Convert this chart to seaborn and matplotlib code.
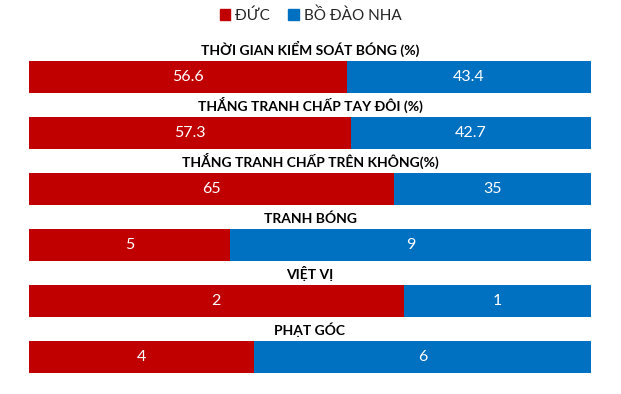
import numpy as np
import pandas as pd
import matplotlib.pyplot as plt
import seaborn as sns
from matplotlib.patches import Patch

# Data
stats = ['THỜI GIAN KIỂM SOÁT BÓNG (%)', 'THẮNG TRANH CHẤP TAY ĐÔI (%)',
         'THẮNG TRANH CHẤP TRÊN KHÔNG(%)', 'TRANH BÓNG', 'VIỆT VỊ', 'PHẠT GÓC']
duc = [56.6, 57.3, 65, 5, 2, 4]
bdn = [43.4, 42.7, 35, 9, 1, 6]
duc_labels = ['56.6', '57.3', '65', '5', '2', '4']
bdn_labels = ['43.4', '42.7', '35', '9', '1', '6']

RED = '#C00000'
BLUE = '#0070C0'

sns.set_style('white')
plt.rcParams['font.family'] = ['Lato', 'DejaVu Sans']

df = pd.DataFrame({'stat': stats, 'duc': duc, 'bdn': bdn})
df['duc_pct'] = df['duc'] / (df['duc'] + df['bdn']) * 100
df['total'] = 100.0

fig = plt.figure(figsize=(6.21, 3.94), dpi=100)
W, H = 621, 394
ax = fig.add_axes([29 / W, 1 - 385 / H, (591 - 29) / W, (385 - 49) / H])

bw = 32 / 56
sns.barplot(data=df, x='total', y='stat', color=BLUE, width=bw, ax=ax,
            saturation=1, orient='h', linewidth=0)
sns.barplot(data=df, x='duc_pct', y='stat', color=RED, width=bw, ax=ax,
            saturation=1, orient='h', linewidth=0)

ax.set_xlim(0, 100)
ax.set_ylim(5.5, -0.5)
for s in ax.spines.values():
    s.set_visible(False)
ax.set_xticks([])
ax.set_yticks([])
ax.set_xlabel('')
ax.set_ylabel('')

for i, row in df.iterrows():
    p = row['duc_pct']
    ax.text(p / 2, i, duc_labels[i], color='white', fontsize=11.5,
            ha='center', va='center')
    ax.text(p + (100 - p) / 2, i, bdn_labels[i], color='white', fontsize=11.5,
            ha='center', va='center')
    ax.text(50, i - bw / 2 - 0.07, row['stat'], color='black', fontsize=10,
            fontweight='bold', ha='center', va='bottom')

handles = [Patch(color=RED, label='ĐỨC'), Patch(color=BLUE, label='BỒ ĐÀO NHA')]
fig.legend(handles=handles, loc='center', bbox_to_anchor=(0.5, 1 - 15 / H),
           ncol=2, frameon=False, fontsize=11, handlelength=0.7,
           handleheight=0.7, handletextpad=0.3, columnspacing=1.2)

fig.savefig('out.png', dpi=100)
